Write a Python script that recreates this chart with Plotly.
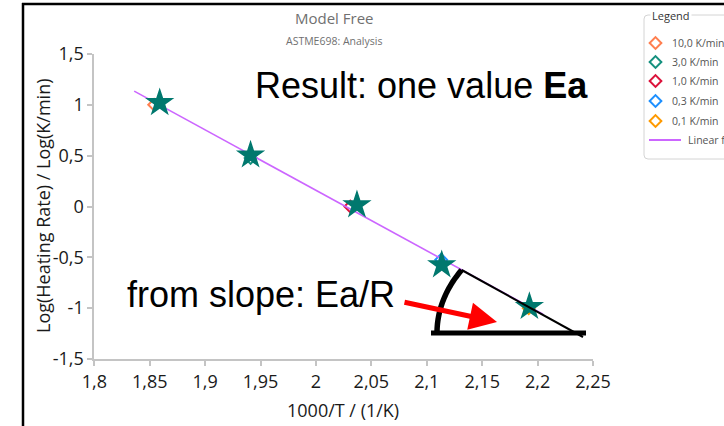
import plotly.graph_objects as go
import numpy as np

W, H = 724, 426
# plot area in pixels (layout constants)
X0PX, X1PX = 94.3, 593.0
YBPX, YTPX = 359.0, 54.0
XR = [1.8, 2.25]
YR = [-1.5, 1.5]

# ---------------- data ----------------
rate_labels = ["10,0 K/min", "3,0 K/min", "1,0 K/min", "0,3 K/min", "0,1 K/min"]
rate_colors = ["#FF7F50", "#16917F", "#DC143C", "#1E90FF", "#FF9A00"]
inv_T = [1.854, 1.941, 2.031, 2.113, 2.192]
log_rate = [1.0, 0.477, 0.0, -0.523, -1.0]
star_x = [1.859, 1.941, 2.037, 2.1135, 2.1926]
star_y = [1.02, 0.505, 0.015, -0.575, -0.985]
fit_x = [1.836, 2.205]
fit_y = [1.135, -1.06]
fit_label = "Linear fit"
x_ticks = [1.8, 1.85, 1.9, 1.95, 2.0, 2.05, 2.1, 2.15, 2.2, 2.25]
x_ticklabels = ["1,8", "1,85", "1,9", "1,95", "2", "2,05", "2,1", "2,15", "2,2", "2,25"]
y_ticks = [-1.5, -1.0, -0.5, 0.0, 0.5, 1.0, 1.5]
y_ticklabels = ["-1,5", "-1", "-0,5", "0", "0,5", "1", "1,5"]


def px2x(px):
    return XR[0] + (px - X0PX) / (X1PX - X0PX) * (XR[1] - XR[0])


def px2y(py):
    return YR[0] + (YBPX - py) / (YBPX - YTPX) * (YR[1] - YR[0])


def pfx(px):
    return px / W


def pfy(py):
    return 1 - py / H


TICKFONT = dict(family="Open Sans", size=18, color="#1a1a1a")
AXC = "#c4c4c4"

fig = go.Figure()

# data markers (open diamonds)
for i in range(len(rate_labels)):
    fig.add_trace(go.Scatter(
        x=[inv_T[i]], y=[log_rate[i]], mode="markers", name=rate_labels[i],
        marker=dict(symbol="diamond-open", size=9, color=rate_colors[i], line=dict(width=2)),
        showlegend=False, xaxis="x", yaxis="y"))

# linear fit
fig.add_trace(go.Scatter(x=fit_x, y=fit_y, mode="lines", name=fit_label,
                         line=dict(color="#CC66FF", width=1.6), showlegend=False))

# star overlay
fig.add_trace(go.Scatter(x=star_x, y=star_y, mode="markers",
                         marker=dict(symbol="star", size=22, color="#00786E", line=dict(width=0)),
                         showlegend=False))

# ---------------- legend (separate pixel-like axes) ----------------
rows = [43, 62, 81, 101, 121]
for i in range(len(rate_labels)):
    fig.add_trace(go.Scatter(x=[649, 662], y=[rows[i], rows[i]], mode="lines",
                             line=dict(color=rate_colors[i], width=2),
                             xaxis="x2", yaxis="y2", showlegend=False, hoverinfo="skip"))
    fig.add_trace(go.Scatter(x=[655.5], y=[rows[i]], mode="markers",
                             marker=dict(symbol="diamond", size=9, color="white",
                                         line=dict(color=rate_colors[i], width=2)),
                             xaxis="x2", yaxis="y2", showlegend=False, hoverinfo="skip"))
fig.add_trace(go.Scatter(x=[649, 681], y=[140, 140], mode="lines",
                         line=dict(color="#CC66FF", width=2),
                         xaxis="x2", yaxis="y2", showlegend=False, hoverinfo="skip"))

annotations = []
for i in range(len(rate_labels)):
    annotations.append(dict(x=670, y=rows[i], xref="x2", yref="y2", text=rate_labels[i],
                            showarrow=False, xanchor="left", yanchor="middle",
                            font=dict(family="Open Sans", size=10.5, color="#555555")))
annotations.append(dict(x=686, y=140, xref="x2", yref="y2", text=fit_label,
                        showarrow=False, xanchor="left", yanchor="middle",
                        font=dict(family="Open Sans", size=10.5, color="#555555")))
annotations.append(dict(x=650, y=15, xref="x2", yref="y2", text="Legend",
                        showarrow=False, xanchor="left", yanchor="middle", bgcolor="white",
                        borderpad=1, font=dict(family="Open Sans", size=11, color="#333333")))

# titles
annotations.append(dict(x=pfx(334), y=pfy(18), xref="paper", yref="paper", text="Model Free",
                        showarrow=False, xanchor="center", yanchor="middle",
                        font=dict(family="Open Sans", size=15, color="#707070")))
annotations.append(dict(x=pfx(334), y=pfy(41), xref="paper", yref="paper", text="ASTME698: Analysis",
                        showarrow=False, xanchor="center", yanchor="middle",
                        font=dict(family="Open Sans", size=10.5, color="#707070")))
# axis titles
annotations.append(dict(x=pfx(343), y=pfy(410), xref="paper", yref="paper", text="1000/T / (1/K)",
                        showarrow=False, xanchor="center", yanchor="middle",
                        font=dict(family="Open Sans", size=18, color="#1a1a1a")))
annotations.append(dict(x=pfx(43), y=pfy(206), xref="paper", yref="paper",
                        text="Log(Heating Rate) / Log(K/min)", textangle=-90,
                        showarrow=False, xanchor="center", yanchor="middle",
                        font=dict(family="Open Sans", size=18, color="#1a1a1a")))
# overlay texts
annotations.append(dict(x=px2x(253), y=px2y(85), xref="x", yref="y",
                        text="Result: one value <b>Ea</b>",
                        showarrow=False, xanchor="left", yanchor="middle",
                        font=dict(family="Liberation Sans", size=36, color="black")))
annotations.append(dict(x=px2x(125), y=px2y(294), xref="x", yref="y",
                        text="from slope: Ea/R",
                        showarrow=False, xanchor="left", yanchor="middle",
                        font=dict(family="Liberation Sans", size=36, color="black")))
# red arrow
annotations.append(dict(x=px2x(497), y=px2y(322), xref="x", yref="y", text="",
                        showarrow=True, ax=-94, ay=-20, arrowcolor="#FF0000",
                        arrowwidth=5, arrowhead=2, arrowsize=1.1))

shapes = []
# legend box
shapes.append(dict(type="path", xref="x2", yref="y2",
                   path="M 730,15 L 648,15 Q 644,15 644,19 L 644,155 Q 644,159 648,159 L 730,159",
                   line=dict(color="#d4d4d4", width=1), layer="below"))
# frame lines
shapes.append(dict(type="line", xref="paper", yref="paper", x0=pfx(23), x1=pfx(23), y0=pfy(3), y1=0,
                   line=dict(color="black", width=2.5)))
shapes.append(dict(type="line", xref="paper", yref="paper", x0=pfx(22), x1=1.0, y0=pfy(4), y1=pfy(4),
                   line=dict(color="black", width=2.5)))
# slope triangle
shapes.append(dict(type="line", xref="x", yref="y", x0=px2x(431), y0=px2y(333), x1=px2x(586), y1=px2y(333),
                   line=dict(color="black", width=5)))
shapes.append(dict(type="line", xref="x", yref="y", x0=px2x(461.7), y0=px2y(270), x1=px2x(583), y1=px2y(337),
                   line=dict(color="black", width=2)))
t = np.linspace(0, np.deg2rad(33.6), 30)
ax_px = 585 - 148 * np.cos(t)
ay_px = 333 - 114 * np.sin(t)
arc = "M " + " L ".join(f"{px2x(a):.5f},{px2y(b):.5f}" for a, b in zip(ax_px, ay_px))
shapes.append(dict(type="path", xref="x", yref="y", path=arc, line=dict(color="black", width=5.5)))

fig.update_layout(
    width=W, height=H, autosize=False, margin=dict(l=0, r=0, t=0, b=0, pad=0, autoexpand=False),
    paper_bgcolor="white", plot_bgcolor="white", showlegend=False,
    xaxis=dict(domain=[X0PX / W, X1PX / W], range=XR, tickvals=x_ticks, ticktext=x_ticklabels,
               showline=True, linecolor=AXC, linewidth=2, ticks="outside", ticklen=5, tickwidth=2,
               tickcolor=AXC, showgrid=False, zeroline=False, tickfont=TICKFONT, anchor="y",
               automargin=False),
    yaxis=dict(domain=[1 - YBPX / H, 1 - YTPX / H], range=YR, tickvals=y_ticks, ticktext=y_ticklabels,
               showline=True, linecolor=AXC, linewidth=2, ticks="outside", ticklen=5, tickwidth=2,
               tickcolor=AXC, showgrid=False, zeroline=False, tickfont=TICKFONT, anchor="x",
               automargin=False),
    xaxis2=dict(domain=[636 / W, 1], range=[636, 724], visible=False, anchor="y2", automargin=False),
    yaxis2=dict(domain=[0, 1], range=[426, 0], visible=False, anchor="x2", automargin=False),
    annotations=annotations, shapes=shapes,
)

fig.write_html("out.html")
